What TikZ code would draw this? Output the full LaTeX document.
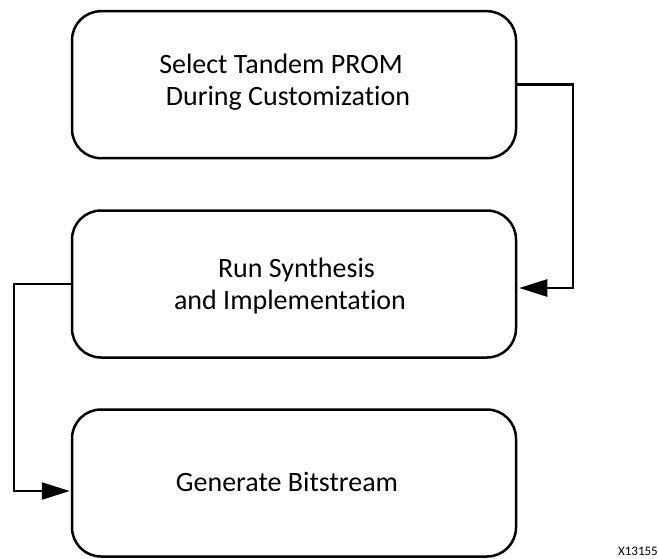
\documentclass[tikz,border=0pt]{standalone}
\usepackage{fontspec}
\setmainfont{Carlito}[Ligatures={NoCommon}]
\usetikzlibrary{arrows.meta}
\begin{document}
\begin{tikzpicture}[x=1pt,y=-1pt,
  box/.style={draw=black, line width=2.5pt, rounded corners=29pt, minimum width=444pt, minimum height=147pt, inner sep=0pt, anchor=center},
  lbl/.style={font=\fontsize{28}{33}\selectfont, anchor=base, inner sep=0pt},
  conn/.style={draw=black, line width=2.5pt, -{Triangle[length=28pt,width=17pt]}}]
\useasboundingbox (0,0) rectangle (659,558);
% boxes
\node[box] (b1) at (294,84.7) {};
\node[box] (b2) at (294,284) {};
\node[box] (b3) at (294,483) {};
% texts
\node[lbl] (t1a) at (281,73) {Select Tandem PROM};
\node[lbl] (t1b) at (288,105) {During Customization};
\node[lbl] (t2a) at (296.5,277) {Run Synthesis};
\node[lbl] (t2b) at (290,309) {and Implementation};
\node[lbl] (t3) at (287,491) {Generate Bitstream};
\node[font=\fontsize{13}{15}\selectfont, anchor=base east, inner sep=0pt] (id) at (658,555) {X13155};
% connectors
\coordinate (r1) at (573,200);
\coordinate (e2) at ([xshift=2pt,yshift=-4pt]b2.east);
\draw[conn] (b1.east) -| (r1) |- (e2);
\coordinate (l1) at (14,400);
\coordinate (e3) at ([xshift=-1pt,yshift=-8pt]b3.west);
\draw[conn] (b2.west) -| (l1) |- (e3);
\end{tikzpicture}
\end{document}
